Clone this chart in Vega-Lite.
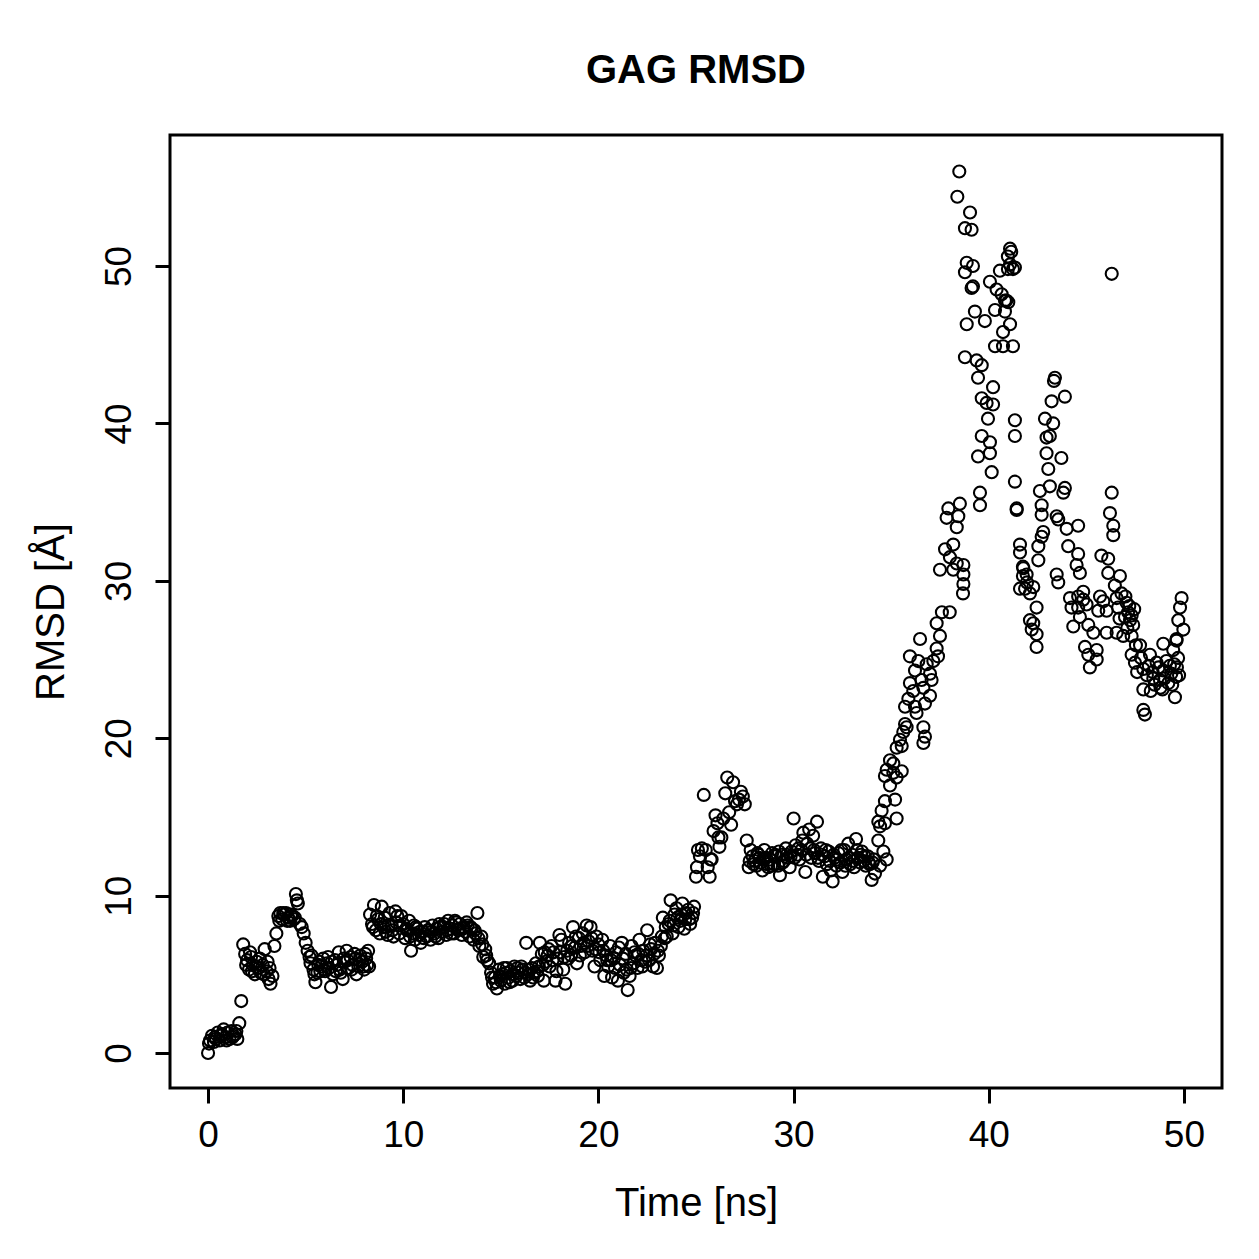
{
"$schema": "https://vega.github.io/schema/vega-lite/v6.json",
"width": 1052, "height": 953,
"autosize": {"type": "none"},
"padding": {"left": 170, "top": 135, "right": 37, "bottom": 171},
"background": "white",
"title": {"text": "GAG RMSD", "font": "Liberation Sans", "fontSize": 40, "fontWeight": "bold", "color": "black", "anchor": "middle", "baseline": "alphabetic", "offset": 12},
"config": {"view": {"stroke": "black", "strokeWidth": 3}},
"data": {"values": [
{"t":0.0,"r":0.0},{"t":0.1,"r":0.8},{"t":0.2,"r":1.1},{"t":0.3,"r":0.7},{"t":0.4,"r":0.9},{"t":0.5,"r":1.3},{"t":0.6,"r":0.8},{"t":0.7,"r":1.2},{"t":0.8,"r":1.5},{"t":0.9,"r":1.0},
{"t":1.0,"r":1.3},{"t":1.1,"r":0.9},{"t":1.2,"r":1.4},{"t":1.3,"r":1.1},{"t":1.4,"r":1.2},{"t":1.5,"r":0.9},{"t":1.6,"r":1.9},{"t":1.7,"r":3.3},{"t":1.8,"r":6.9},{"t":1.9,"r":6.3},
{"t":2.0,"r":5.9},{"t":2.1,"r":5.3},{"t":2.2,"r":6.1},{"t":2.3,"r":5.6},{"t":2.4,"r":5.0},{"t":2.5,"r":5.8},{"t":2.6,"r":5.4},{"t":2.7,"r":5.1},{"t":2.8,"r":5.6},{"t":2.9,"r":6.6},
{"t":3.0,"r":5.2},{"t":3.1,"r":4.7},{"t":3.2,"r":4.4},{"t":3.3,"r":4.9},{"t":3.4,"r":6.8},{"t":3.5,"r":7.6},{"t":3.6,"r":8.7},{"t":3.7,"r":8.9},{"t":3.8,"r":8.5},{"t":3.9,"r":8.8},
{"t":4.0,"r":8.9},{"t":4.1,"r":8.6},{"t":4.2,"r":8.4},{"t":4.3,"r":8.7},{"t":4.4,"r":8.5},{"t":4.5,"r":10.1},{"t":4.55,"r":9.7},{"t":4.6,"r":9.5},{"t":4.7,"r":8.2},{"t":4.8,"r":8.0},{"t":4.9,"r":7.6},
{"t":5.0,"r":7.0},{"t":5.1,"r":6.5},{"t":5.2,"r":6.1},{"t":5.3,"r":6.2},{"t":5.4,"r":5.3},{"t":5.5,"r":4.5},{"t":5.6,"r":5.1},{"t":5.7,"r":5.8},{"t":5.8,"r":5.5},{"t":5.9,"r":6.0},
{"t":6.0,"r":5.2},{"t":6.1,"r":5.7},{"t":6.2,"r":5.4},{"t":6.3,"r":4.2},{"t":6.4,"r":5.0},{"t":6.5,"r":5.9},{"t":6.6,"r":5.6},{"t":6.7,"r":6.4},{"t":6.8,"r":5.1},{"t":6.9,"r":4.7},
{"t":7.0,"r":5.8},{"t":7.1,"r":6.5},{"t":7.2,"r":5.4},{"t":7.3,"r":6.1},{"t":7.4,"r":5.6},{"t":7.5,"r":6.3},{"t":7.6,"r":5.0},{"t":7.7,"r":5.5},{"t":7.8,"r":6.2},{"t":7.9,"r":5.8},
{"t":8.0,"r":5.3},{"t":8.1,"r":6.0},{"t":8.2,"r":6.5},{"t":8.3,"r":8.8},{"t":8.4,"r":8.2},{"t":8.5,"r":9.4},{"t":8.6,"r":7.8},{"t":8.7,"r":8.5},{"t":8.8,"r":7.6},{"t":8.9,"r":9.3},
{"t":9.0,"r":8.0},{"t":9.1,"r":7.7},{"t":9.2,"r":7.5},{"t":9.3,"r":8.9},{"t":9.4,"r":8.1},{"t":9.5,"r":7.4},{"t":9.6,"r":9.0},{"t":9.7,"r":8.7},{"t":9.8,"r":7.6},{"t":9.9,"r":8.7},
{"t":10.0,"r":8.2},{"t":10.1,"r":7.3},{"t":10.2,"r":7.8},{"t":10.3,"r":8.4},{"t":10.4,"r":6.5},{"t":10.5,"r":7.6},{"t":10.6,"r":7.2},{"t":10.7,"r":7.9},{"t":10.8,"r":7.5},{"t":10.9,"r":7.0},
{"t":11.0,"r":7.7},{"t":11.1,"r":8.0},{"t":11.2,"r":7.4},{"t":11.3,"r":7.8},{"t":11.4,"r":7.2},{"t":11.5,"r":8.1},{"t":11.6,"r":7.6},{"t":11.7,"r":7.9},{"t":11.8,"r":7.3},{"t":11.9,"r":8.0},
{"t":12.0,"r":7.7},{"t":12.1,"r":8.2},{"t":12.2,"r":7.5},{"t":12.3,"r":8.4},{"t":12.4,"r":7.9},{"t":12.5,"r":8.1},{"t":12.6,"r":7.6},{"t":12.7,"r":8.3},{"t":12.8,"r":7.8},{"t":12.9,"r":8.2},
{"t":13.0,"r":7.5},{"t":13.1,"r":8.0},{"t":13.2,"r":7.7},{"t":13.3,"r":8.1},{"t":13.4,"r":7.4},{"t":13.5,"r":7.9},{"t":13.6,"r":7.2},{"t":13.7,"r":7.6},{"t":13.8,"r":8.9},{"t":13.9,"r":6.8},
{"t":14.0,"r":7.4},{"t":14.1,"r":6.1},{"t":14.2,"r":6.6},{"t":14.3,"r":5.9},{"t":14.4,"r":5.7},{"t":14.5,"r":5.1},{"t":14.6,"r":4.4},{"t":14.7,"r":4.8},{"t":14.8,"r":4.1},{"t":14.9,"r":5.3},
{"t":15.0,"r":4.6},{"t":15.1,"r":5.0},{"t":15.2,"r":4.4},{"t":15.3,"r":5.4},{"t":15.4,"r":4.8},{"t":15.5,"r":5.2},{"t":15.6,"r":4.6},{"t":15.7,"r":5.5},{"t":15.8,"r":4.9},{"t":15.9,"r":5.1},
{"t":16.0,"r":4.7},{"t":16.1,"r":5.3},{"t":16.2,"r":4.8},{"t":16.3,"r":7.0},{"t":16.4,"r":5.0},{"t":16.5,"r":4.6},{"t":16.6,"r":5.4},{"t":16.7,"r":5.1},{"t":16.8,"r":5.7},{"t":16.9,"r":4.9},
{"t":17.0,"r":7.0},{"t":17.1,"r":6.3},{"t":17.2,"r":4.6},{"t":17.3,"r":5.8},{"t":17.4,"r":6.2},{"t":17.5,"r":5.5},{"t":17.6,"r":6.8},{"t":17.7,"r":6.4},{"t":17.8,"r":4.6},{"t":17.9,"r":6.0},
{"t":18.0,"r":7.5},{"t":18.1,"r":7.2},{"t":18.2,"r":5.3},{"t":18.3,"r":4.4},{"t":18.4,"r":6.5},{"t":18.5,"r":7.0},{"t":18.6,"r":6.2},{"t":18.7,"r":8.0},{"t":18.8,"r":6.7},{"t":18.9,"r":5.7},
{"t":19.0,"r":7.3},{"t":19.1,"r":6.8},{"t":19.2,"r":7.6},{"t":19.3,"r":6.4},{"t":19.4,"r":8.1},{"t":19.5,"r":7.1},{"t":19.6,"r":8.0},{"t":19.7,"r":6.5},{"t":19.8,"r":5.5},{"t":19.9,"r":7.4},
{"t":20.0,"r":6.9},{"t":20.1,"r":5.9},{"t":20.2,"r":7.2},{"t":20.3,"r":4.9},{"t":20.4,"r":6.2},{"t":20.5,"r":5.5},{"t":20.6,"r":6.8},{"t":20.7,"r":4.8},{"t":20.8,"r":6.0},{"t":20.9,"r":6.4},
{"t":21.0,"r":4.6},{"t":21.1,"r":5.6},{"t":21.2,"r":7.0},{"t":21.3,"r":5.1},{"t":21.4,"r":6.3},{"t":21.5,"r":4.0},{"t":21.6,"r":4.9},{"t":21.7,"r":6.8},{"t":21.8,"r":5.7},{"t":21.9,"r":6.2},
{"t":22.0,"r":5.4},{"t":22.1,"r":7.2},{"t":22.2,"r":5.9},{"t":22.3,"r":6.5},{"t":22.4,"r":5.8},{"t":22.5,"r":7.8},{"t":22.6,"r":5.9},{"t":22.7,"r":6.6},{"t":22.8,"r":5.5},{"t":22.9,"r":7.0},
{"t":23.0,"r":5.4},{"t":23.1,"r":6.2},{"t":23.2,"r":6.8},{"t":23.3,"r":8.6},{"t":23.4,"r":7.3},{"t":23.5,"r":7.4},{"t":23.6,"r":8.2},{"t":23.7,"r":9.7},{"t":23.8,"r":7.6},{"t":23.9,"r":8.8},
{"t":24.0,"r":9.2},{"t":24.1,"r":8.0},{"t":24.2,"r":8.4},{"t":24.3,"r":9.5},{"t":24.4,"r":7.9},{"t":24.5,"r":8.9},{"t":24.6,"r":9.1},{"t":24.7,"r":8.2},{"t":24.8,"r":8.6},{"t":24.9,"r":9.3},
{"t":25.0,"r":11.2},{"t":25.05,"r":11.8},{"t":25.1,"r":12.9},{"t":25.2,"r":12.5},{"t":25.3,"r":13.0},{"t":25.4,"r":16.4},{"t":25.5,"r":12.9},{"t":25.6,"r":11.8},{"t":25.7,"r":11.2},{"t":25.75,"r":12.3},{"t":25.8,"r":12.3},{"t":25.9,"r":14.1},
{"t":26.0,"r":15.1},{"t":26.1,"r":14.6},{"t":26.15,"r":13.7},{"t":26.2,"r":13.1},{"t":26.3,"r":13.7},{"t":26.4,"r":14.9},{"t":26.5,"r":16.5},{"t":26.6,"r":17.5},{"t":26.7,"r":15.3},{"t":26.8,"r":14.5},{"t":26.9,"r":17.2},
{"t":27.0,"r":16.0},{"t":27.1,"r":15.8},{"t":27.2,"r":16.1},{"t":27.3,"r":16.6},{"t":27.4,"r":16.3},{"t":27.5,"r":15.8},{"t":27.6,"r":13.5},{"t":27.7,"r":11.8},{"t":27.8,"r":12.9},{"t":27.9,"r":12.5},
{"t":28.0,"r":12.2},{"t":28.1,"r":11.9},{"t":28.2,"r":12.6},{"t":28.3,"r":12.1},{"t":28.4,"r":11.6},{"t":28.5,"r":12.9},{"t":28.6,"r":12.4},{"t":28.7,"r":11.8},{"t":28.8,"r":12.3},{"t":28.9,"r":12.7},
{"t":29.0,"r":12.0},{"t":29.1,"r":12.5},{"t":29.2,"r":11.9},{"t":29.3,"r":11.3},{"t":29.4,"r":12.6},{"t":29.5,"r":12.2},{"t":29.6,"r":13.0},{"t":29.7,"r":12.4},{"t":29.8,"r":11.8},{"t":29.9,"r":12.8},
{"t":30.0,"r":14.9},{"t":30.1,"r":13.2},{"t":30.2,"r":12.6},{"t":30.3,"r":12.3},{"t":30.4,"r":12.9},{"t":30.5,"r":14.0},{"t":30.6,"r":11.5},{"t":30.7,"r":13.3},{"t":30.8,"r":14.2},{"t":30.9,"r":12.4},
{"t":31.0,"r":13.8},{"t":31.1,"r":12.7},{"t":31.2,"r":14.7},{"t":31.3,"r":12.2},{"t":31.4,"r":13.0},{"t":31.5,"r":11.2},{"t":31.6,"r":12.5},{"t":31.7,"r":12.0},{"t":31.8,"r":12.8},{"t":31.9,"r":11.6},
{"t":32.0,"r":10.9},{"t":32.1,"r":12.4},{"t":32.2,"r":11.9},{"t":32.3,"r":12.7},{"t":32.4,"r":12.1},{"t":32.5,"r":11.5},{"t":32.6,"r":12.9},{"t":32.7,"r":12.3},{"t":32.8,"r":13.3},{"t":32.9,"r":12.0},
{"t":33.0,"r":12.6},{"t":33.1,"r":11.8},{"t":33.2,"r":13.6},{"t":33.3,"r":12.4},{"t":33.4,"r":12.1},{"t":33.5,"r":12.8},{"t":33.6,"r":12.2},{"t":33.7,"r":11.9},{"t":33.8,"r":12.5},{"t":33.9,"r":12.0},
{"t":34.0,"r":11.0},{"t":34.1,"r":12.3},{"t":34.17,"r":11.4},{"t":34.34,"r":13.5},{"t":34.6,"r":12.8},{"t":34.77,"r":12.3},{"t":34.43,"r":11.9},{"t":35.2,"r":16.1},{"t":34.68,"r":16.0},{"t":34.51,"r":15.4},
{"t":35.28,"r":14.9},{"t":34.34,"r":14.7},{"t":34.68,"r":14.6},{"t":34.43,"r":14.4},{"t":34.94,"r":18.6},{"t":35.11,"r":18.4},{"t":34.77,"r":18.0},{"t":35.11,"r":17.8},{"t":35.54,"r":17.9},{"t":34.68,"r":17.6},
{"t":35.28,"r":17.5},{"t":34.94,"r":17.0},{"t":35.71,"r":20.9},{"t":35.79,"r":20.7},{"t":35.62,"r":20.4},{"t":35.45,"r":19.9},{"t":35.54,"r":19.5},{"t":35.28,"r":19.4},{"t":36.65,"r":20.7},{"t":36.73,"r":20.1},
{"t":36.65,"r":19.7},{"t":35.96,"r":25.2},{"t":36.39,"r":24.9},{"t":36.22,"r":24.3},{"t":36.82,"r":24.7},{"t":37.16,"r":24.9},{"t":36.99,"r":24.1},{"t":37.07,"r":23.7},{"t":36.56,"r":23.7},{"t":35.96,"r":23.5},
{"t":36.13,"r":23.0},{"t":36.65,"r":23.2},{"t":36.99,"r":22.7},{"t":36.73,"r":22.2},{"t":35.88,"r":22.5},{"t":35.71,"r":22.0},{"t":36.22,"r":22.0},{"t":36.3,"r":21.6},{"t":36.48,"r":26.3},{"t":37.5,"r":26.5},
{"t":37.33,"r":25.7},{"t":37.4,"r":25.2},{"t":38.0,"r":28.0},{"t":37.6,"r":28.0},{"t":37.33,"r":27.3},{"t":37.5,"r":30.7},{"t":37.76,"r":32.0},{"t":38.01,"r":31.5},{"t":38.18,"r":32.3},{"t":38.36,"r":31.1},
{"t":38.7,"r":31.0},{"t":38.18,"r":30.7},{"t":38.7,"r":30.4},{"t":38.7,"r":29.8},{"t":37.93,"r":34.6},{"t":38.52,"r":34.9},{"t":37.84,"r":34.0},{"t":38.44,"r":34.1},{"t":38.36,"r":33.4},{"t":38.68,"r":29.2},
{"t":38.49,"r":56.0},{"t":38.39,"r":54.4},{"t":39.04,"r":53.4},{"t":38.78,"r":52.4},{"t":39.12,"r":52.3},{"t":41.09,"r":51.1},{"t":40.98,"r":50.6},{"t":41.15,"r":50.9},{"t":38.87,"r":50.2},{"t":39.19,"r":50.0},
{"t":38.78,"r":49.6},{"t":40.57,"r":49.7},{"t":40.98,"r":49.8},{"t":41.24,"r":49.8},{"t":41.09,"r":50.1},{"t":41.34,"r":49.9},{"t":40.06,"r":49.0},{"t":39.19,"r":48.7},{"t":39.12,"r":48.6},{"t":40.4,"r":48.5},
{"t":40.66,"r":48.2},{"t":40.83,"r":47.8},{"t":41.0,"r":47.7},{"t":40.9,"r":47.8},{"t":40.32,"r":47.2},{"t":40.83,"r":47.1},{"t":39.29,"r":47.1},{"t":39.8,"r":46.5},{"t":38.87,"r":46.3},{"t":41.09,"r":46.3},
{"t":40.73,"r":45.8},{"t":40.32,"r":44.9},{"t":40.73,"r":44.9},{"t":41.24,"r":44.9},{"t":38.78,"r":44.2},{"t":39.38,"r":44.0},{"t":39.64,"r":43.7},{"t":39.45,"r":42.9},{"t":40.22,"r":42.3},{"t":39.64,"r":41.6},
{"t":39.89,"r":41.3},{"t":40.22,"r":41.2},{"t":39.96,"r":40.3},{"t":41.34,"r":40.2},{"t":41.34,"r":39.2},{"t":39.64,"r":39.2},{"t":40.06,"r":38.8},{"t":39.45,"r":37.9},{"t":40.06,"r":38.1},{"t":40.15,"r":36.9},
{"t":41.34,"r":36.3},{"t":39.55,"r":35.6},{"t":39.55,"r":34.8},{"t":41.43,"r":34.5},{"t":41.43,"r":34.6},{"t":41.6,"r":32.3},{"t":41.6,"r":31.8},{"t":41.75,"r":30.9},{"t":41.75,"r":30.3},{"t":41.96,"r":29.9},
{"t":41.77,"r":30.8},{"t":41.94,"r":30.4},{"t":41.86,"r":29.5},{"t":41.6,"r":29.5},{"t":42.11,"r":29.2},{"t":42.28,"r":29.6},
{"t":46.3,"r":49.5},{"t":43.39,"r":42.9},{"t":43.34,"r":42.7},{"t":43.22,"r":41.4},{"t":43.9,"r":41.7},{"t":42.88,"r":40.3},{"t":43.3,"r":40.0},{"t":42.96,"r":39.1},{"t":43.13,"r":39.2},{"t":42.96,"r":38.1},
{"t":43.72,"r":37.8},{"t":43.05,"r":37.1},{"t":43.13,"r":36.0},{"t":43.9,"r":35.9},{"t":43.82,"r":35.6},{"t":42.62,"r":35.7},{"t":46.3,"r":35.6},{"t":42.71,"r":34.8},{"t":42.71,"r":34.2},{"t":43.48,"r":34.1},
{"t":43.56,"r":33.9},{"t":43.99,"r":33.3},{"t":44.58,"r":33.5},{"t":46.21,"r":34.3},{"t":46.38,"r":33.5},{"t":46.38,"r":32.9},{"t":42.79,"r":33.1},{"t":42.71,"r":32.8},{"t":42.54,"r":32.2},{"t":42.54,"r":31.3},
{"t":44.07,"r":32.2},{"t":44.58,"r":31.7},{"t":44.5,"r":31.0},{"t":44.67,"r":30.5},{"t":45.77,"r":31.6},{"t":46.12,"r":31.4},{"t":43.48,"r":30.4},{"t":43.56,"r":29.9},{"t":46.12,"r":30.5},{"t":46.72,"r":30.3},
{"t":46.46,"r":29.7},{"t":44.16,"r":28.9},{"t":44.58,"r":29.0},{"t":44.84,"r":29.3},{"t":44.84,"r":28.8},{"t":44.24,"r":28.3},{"t":44.58,"r":28.3},{"t":45.01,"r":28.5},{"t":45.7,"r":29.0},{"t":45.87,"r":28.7},
{"t":45.61,"r":28.1},{"t":46.04,"r":28.1},{"t":46.55,"r":28.9},{"t":47.06,"r":28.6},{"t":46.63,"r":28.3},{"t":47.14,"r":28.0},{"t":46.98,"r":27.7},{"t":47.32,"r":27.8},{"t":47.24,"r":27.5},{"t":42.45,"r":28.3},
{"t":42.11,"r":27.5},{"t":42.28,"r":27.3},{"t":42.2,"r":26.9},{"t":42.45,"r":26.6},{"t":42.45,"r":25.8},{"t":44.33,"r":27.1},{"t":44.67,"r":27.7},{"t":45.1,"r":27.2},{"t":45.36,"r":26.7},{"t":44.93,"r":25.8},
{"t":45.1,"r":25.3},{"t":45.18,"r":24.5},{"t":45.53,"r":25.6},{"t":45.53,"r":25.0},{"t":46.04,"r":26.7},{"t":46.55,"r":26.7},{"t":46.89,"r":26.5},{"t":47.32,"r":26.5},{"t":47.32,"r":25.3},{"t":47.75,"r":25.9},
{"t":47.49,"r":24.8},{"t":47.92,"r":24.4},{"t":48.26,"r":25.3},{"t":48.6,"r":24.8},{"t":48.94,"r":26.0},{"t":48.94,"r":24.3},{"t":49.28,"r":24.6},{"t":49.45,"r":25.6},{"t":49.62,"r":26.3},{"t":47.92,"r":23.1},
{"t":49.54,"r":22.6},{"t":48.77,"r":23.7},{"t":48.43,"r":23.8},{"t":47.92,"r":21.8},{"t":48.0,"r":21.5},{"t":49.88,"r":28.9},{"t":49.8,"r":28.3},{"t":49.71,"r":27.5},{"t":49.97,"r":26.9},{"t":49.62,"r":26.2},
{"t":47.6,"r":24.2},{"t":47.8,"r":25.1},{"t":48.1,"r":24.0},{"t":48.2,"r":24.6},{"t":48.4,"r":24.2},{"t":48.5,"r":23.4},{"t":48.7,"r":24.5},{"t":48.8,"r":23.2},{"t":49.0,"r":23.8},{"t":49.1,"r":24.9},
{"t":49.2,"r":23.5},{"t":49.35,"r":24.1},{"t":49.4,"r":23.4},{"t":49.5,"r":24.7},{"t":49.6,"r":23.9},{"t":49.7,"r":25.1},{"t":49.75,"r":24.0},{"t":48.3,"r":23.0},{"t":48.9,"r":23.1},{"t":49.64,"r":24.5},
{"t":46.8,"r":29.2},{"t":47.0,"r":29.0},{"t":47.2,"r":28.4},{"t":47.4,"r":27.2},{"t":47.45,"r":28.2},{"t":46.7,"r":27.6},{"t":47.1,"r":27.0},{"t":47.54,"r":25.9},
{"t":5.75,"r":5.2},{"t":6.15,"r":6.1},{"t":6.55,"r":5.2},{"t":6.95,"r":6.0},{"t":7.35,"r":5.3},{"t":7.75,"r":5.9},{"t":8.15,"r":5.6},{"t":2.25,"r":5.2},{"t":2.65,"r":6.0},{"t":3.05,"r":5.8},
{"t":10.65,"r":8.0},{"t":11.05,"r":7.3},{"t":11.45,"r":7.7},{"t":11.85,"r":8.2},{"t":12.25,"r":7.8},{"t":12.65,"r":8.4},{"t":13.05,"r":7.9},{"t":13.45,"r":8.0},{"t":9.45,"r":7.8},{"t":9.85,"r":8.1},
{"t":15.25,"r":5.1},{"t":15.65,"r":5.0},{"t":16.05,"r":5.5},{"t":16.45,"r":5.3},{"t":16.85,"r":5.2},{"t":17.25,"r":6.4},{"t":17.65,"r":5.9},{"t":18.05,"r":6.4},{"t":18.45,"r":6.0},{"t":18.85,"r":7.4},
{"t":19.25,"r":7.0},{"t":19.65,"r":7.3},{"t":20.05,"r":6.4},{"t":20.45,"r":5.9},{"t":20.85,"r":5.4},{"t":21.25,"r":6.0},{"t":21.65,"r":5.4},{"t":22.05,"r":6.3},{"t":22.45,"r":6.2},{"t":22.85,"r":6.3},
{"t":23.25,"r":7.4},{"t":23.65,"r":8.4},{"t":24.05,"r":8.6},{"t":24.45,"r":8.5},{"t":24.85,"r":8.9},{"t":28.25,"r":12.4},{"t":28.65,"r":12.0},{"t":29.05,"r":12.6},{"t":29.45,"r":12.1},{"t":29.85,"r":12.5},
{"t":30.25,"r":13.0},{"t":30.65,"r":12.6},{"t":31.05,"r":12.9},{"t":31.45,"r":12.6},{"t":31.85,"r":12.2},{"t":32.25,"r":12.3},{"t":32.65,"r":11.9},{"t":33.05,"r":12.2},{"t":33.45,"r":12.6},{"t":33.85,"r":12.1},
{"t":0.05,"r":0.6},{"t":0.35,"r":1.0},{"t":0.65,"r":1.1},{"t":0.95,"r":0.8},{"t":1.25,"r":1.0},{"t":1.45,"r":1.4},{"t":1.95,"r":5.6},{"t":2.15,"r":6.4},{"t":2.45,"r":5.5},{"t":2.85,"r":5.0},
{"t":3.15,"r":5.4},{"t":3.65,"r":8.4},{"t":3.85,"r":8.9},{"t":4.05,"r":8.4},{"t":4.25,"r":8.8},{"t":4.45,"r":8.6},{"t":5.25,"r":5.7},{"t":5.45,"r":5.0},{"t":5.65,"r":5.6},{"t":5.95,"r":5.3},
{"t":6.35,"r":5.8},{"t":6.75,"r":5.3},{"t":7.15,"r":5.9},{"t":7.55,"r":6.0},{"t":7.95,"r":5.5},{"t":8.05,"r":6.3},{"t":8.25,"r":5.5},{"t":8.45,"r":8.0},{"t":8.65,"r":8.7},{"t":8.85,"r":8.2},
{"t":9.05,"r":8.6},{"t":9.25,"r":8.1},{"t":9.65,"r":8.3},{"t":10.15,"r":7.9},{"t":10.35,"r":7.4},{"t":10.55,"r":8.1},{"t":10.85,"r":7.7},{"t":11.25,"r":7.8},{"t":11.65,"r":7.4},{"t":12.05,"r":8.0},
{"t":12.45,"r":7.6},{"t":12.85,"r":7.9},{"t":13.25,"r":8.3},{"t":13.65,"r":7.8},{"t":13.85,"r":7.3},{"t":14.05,"r":6.9},{"t":14.25,"r":6.2},{"t":14.55,"r":4.8},{"t":14.75,"r":4.5},{"t":14.95,"r":4.9},
{"t":15.15,"r":5.4},{"t":15.45,"r":4.5},{"t":15.85,"r":5.4},{"t":16.25,"r":5.1},{"t":16.65,"r":4.8},{"t":16.95,"r":5.5},{"t":17.15,"r":5.6},{"t":17.45,"r":6.6},{"t":17.85,"r":5.2},{"t":18.25,"r":6.1},
{"t":18.65,"r":6.8},{"t":19.05,"r":6.2},{"t":19.45,"r":6.8},{"t":19.85,"r":6.6},{"t":20.25,"r":6.5},{"t":20.65,"r":5.9},{"t":21.05,"r":6.7},{"t":21.45,"r":5.3},{"t":21.85,"r":6.4},{"t":22.25,"r":5.5},
{"t":22.65,"r":6.9},{"t":23.05,"r":6.5},{"t":23.45,"r":8.0},{"t":23.85,"r":8.1},{"t":24.25,"r":8.8},{"t":24.65,"r":8.5},{"t":27.75,"r":12.2},{"t":27.95,"r":12.0},{"t":28.15,"r":12.7},{"t":28.45,"r":12.3},
{"t":28.85,"r":11.9},{"t":29.25,"r":12.8},{"t":29.65,"r":12.6},{"t":30.05,"r":12.4},{"t":30.45,"r":13.5},{"t":30.85,"r":13.0},{"t":31.25,"r":12.4},{"t":31.65,"r":12.9},{"t":32.05,"r":12.6},{"t":32.45,"r":12.9},
{"t":32.85,"r":12.4},{"t":33.25,"r":12.9},{"t":33.65,"r":12.5},{"t":34.05,"r":12.1}
]},
"mark": {"type": "point", "shape": "circle", "filled": false, "stroke": "black", "strokeWidth": 2.1, "size": 145, "opacity": 1},
"encoding": {
"x": {"field": "t", "type": "quantitative",
 "scale": {"domain": [-1.95, 51.95], "nice": false, "zero": false},
 "axis": {"values": [0,10,20,30,40,50], "domain": false, "grid": false, "ticks": true, "tickSize": 15, "tickWidth": 3, "tickColor": "black",
  "labelFont": "Liberation Sans", "labelFontSize": 37, "labelColor": "black", "labelPadding": 14, "labelBaseline": "top", "labelFlush": false,
  "title": "Time [ns]", "titleFont": "Liberation Sans", "titleFontSize": 40, "titleFontWeight": "normal", "titleColor": "black", "titleBaseline": "alphabetic", "titleX": 526, "titleY": 127, "titleAnchor": "middle"}},
"y": {"field": "r", "type": "quantitative",
 "scale": {"domain": [-2.22, 58.32], "nice": false, "zero": false},
 "axis": {"values": [0,10,20,30,40,50], "domain": false, "grid": false, "ticks": true, "tickSize": 15, "tickWidth": 3, "tickColor": "black",
  "labelFont": "Liberation Sans", "labelFontSize": 37, "labelColor": "black", "labelAngle": -90, "labelAlign": "center", "labelBaseline": "alphabetic", "labelPadding": 25, "labelFlush": false,
  "title": "RMSD [Å]", "titleFont": "Liberation Sans", "titleFontSize": 40, "titleFontWeight": "normal", "titleColor": "black", "titleAngle": -90, "titleBaseline": "alphabetic", "titleAlign": "center", "titleX": -107, "titleY": 476.5}}
}
}
